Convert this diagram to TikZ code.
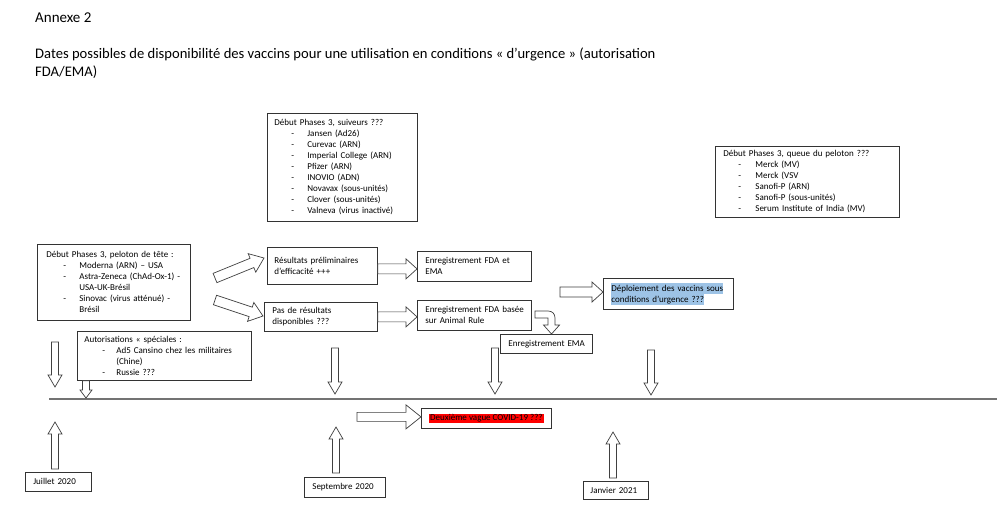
\documentclass[tikz,border=0pt]{standalone}
\usepackage{fontspec}
\setmainfont{Carlito}
\usetikzlibrary{calc}
\definecolor{hlblue}{RGB}{157,195,230}
\newcommand\bul[3]{\mbox{\hspace*{#1pt}\makebox[#2pt][l]{-}#3}}
\newcommand\bla[1]{\bul{17}{16}{#1}}
\newcommand\blq[1]{\bul{15}{17}{#1}}
\newcommand\blb[1]{\bul{18}{14}{#1}}
\newcommand\cont[2]{\mbox{\hspace*{#1pt}#2}}
\newcommand\redhl[1]{{\setlength{\fboxsep}{1pt}\colorbox{red}{#1}}}
\newcommand\bluehl[1]{{\setlength{\fboxsep}{0pt}\colorbox{hlblue}{\rule[-2.5pt]{0pt}{11pt}#1}}}
\begin{document}
\begin{tikzpicture}[x=1pt,y=1pt,
 box/.style={draw=black!80, line width=0.75pt, anchor=north west, inner ysep=0pt, align=left, font=\fontsize{9}{11}\selectfont},
 bsw/.store in=\bsw, bhw/.store in=\bhw, bhl/.store in=\bhl,
 bsw=5pt, bhw=10pt, bhl=11pt,
 barrow/.style={draw=black!75, line width=0.7pt, fill=white, line join=miter,
   to path={($(\tikztostart)!\bsw!90:(\tikztotarget)$)
     -- ($($(\tikztotarget)!\bhl!(\tikztostart)$)!\bsw!90:(\tikztotarget)$)
     -- ($($(\tikztotarget)!\bhl!(\tikztostart)$)!\bhw!90:(\tikztotarget)$)
     -- (\tikztotarget)
     -- ($($(\tikztotarget)!\bhl!(\tikztostart)$)!\bhw!-90:(\tikztotarget)$)
     -- ($($(\tikztotarget)!\bhl!(\tikztostart)$)!\bsw!-90:(\tikztotarget)$)
     -- ($(\tikztostart)!\bsw!-90:(\tikztotarget)$) -- cycle}},
 vsmall/.style={bsw=3.5pt, bhw=7pt, bhl=12pt},
]
\useasboundingbox[fill=white] (0,0) rectangle (1000,-515);

% titles
\node[anchor=base west, inner sep=0pt, font=\fontsize{15}{18}\selectfont] (ann) at (35,-22) {Annexe 2};
\node[anchor=north west, inner sep=0pt, align=left, font=\fontsize{14.6}{18}\selectfont] (sub) at (35,-47.5)
 {Dates possibles de disponibilité des vaccins pour une utilisation en conditions «~d’urgence~» (autorisation\\FDA/EMA)};

% boxes
\node[box, text width=135pt, inner xsep=9pt, minimum height=76pt] (tete) at (37,-244)
 {Début Phases 3, peloton de tête :\\ \bla{Moderna (ARN) – USA}\\ \bla{Astra-Zeneca (ChAd-Ox-1) -}\\ \cont{33}{USA-UK-Brésil}\\ \bla{Sinovac (virus atténué) -}\\ \cont{33}{Brésil}};
\node[box, text width=136pt, inner xsep=7pt, minimum height=108pt] (suiv) at (267,-113)
 {Début Phases 3, suiveurs ???\\ \bla{Jansen (Ad26)}\\ \bla{Curevac (ARN)}\\ \bla{Imperial College (ARN)}\\ \bla{Pfizer (ARN)}\\ \bla{INOVIO (ADN)}\\ \bla{Novavax (sous-unités)}\\ \bla{Clover (sous-unités)}\\ \bla{Valneva (virus inactivé)}};
\node[box, text width=168pt, inner xsep=8pt, minimum height=71pt] (queue) at (715,-146)
 {Début Phases 3, queue du peloton ???\\ \blq{Merck (MV)}\\ \blq{Merck (VSV}\\ \blq{Sanofi-P (ARN)}\\ \blq{Sanofi-P (sous-unités)}\\ \blq{Serum Institute of India (MV)}};
\node[box, text width=96pt, inner xsep=7pt, minimum height=37pt] (res) at (267,-247)
 {Résultats préliminaires\\ d’efficacité +++};
\node[box, text width=98pt, inner xsep=8pt, minimum height=30pt] (enr1) at (417,-251)
 {Enregistrement FDA et\\ EMA};
\node[box, text width=97pt, inner xsep=8pt, minimum height=29pt] (pas) at (264,-302)
 {Pas de résultats\\ disponibles ???};
\node[box, text width=98pt, inner xsep=8pt, minimum height=30pt] (enr2) at (417,-300)
 {\mbox{Enregistrement FDA basée}\\ sur Animal Rule};
\node[box, text width=76pt, inner xsep=8pt, minimum height=19pt] (ema) at (500,-334)
 {\mbox{Enregistrement EMA}};
\node[box, text width=114pt, inner xsep=8pt, minimum height=31pt] (depl) at (603,-278)
 {\bluehl{Déploiement des vaccins sous}\\ \bluehl{conditions d’urgence ???}};
\node[box, text width=160pt, inner xsep=7pt, minimum height=49pt] (auto) at (77,-331)
 {Autorisations «~spéciales :\\ \blb{Ad5 Cansino chez les militaires}\\ \cont{32}{(Chine)}\\ \blb{Russie ???}};
\node[box, minimum width=130pt, minimum height=20pt, inner sep=0pt] (deux) at (421,-408)
 {\redhl{Deuxième vague COVID-19 ???}};
\node[box, text width=50pt, inner xsep=8pt, minimum height=19pt] (juil) at (25,-472) {\mbox{Juillet 2020}};
\node[box, text width=65pt, inner xsep=8pt, minimum height=20pt] (sept) at (304,-477) {\mbox{Septembre 2020}};
\node[box, text width=51pt, inner xsep=7pt, minimum height=18pt] (janv) at (583,-481) {\mbox{Janvier 2021}};

% timeline
\coordinate (tl1) at (49,-399);
\coordinate (tl2) at (997,-399);
\draw[black!55, line width=1.5pt] (tl1) -- (tl2);

% block arrows
\coordinate (a1s) at (215,-278); \coordinate (a1e) at (264,-258);
\coordinate (a2s) at (215,-300); \coordinate (a2e) at (263,-316);
\draw[barrow, bhl=13pt] (a1s) to (a1e);
\draw[barrow, bhl=13pt] (a2s) to (a2e);
\coordinate (a3s) at ($(res.east)+(0,-3)$); \coordinate (a3e) at (a3s -| enr1.west);
\draw[barrow] (a3s) to (a3e);
\coordinate (a4s) at (pas.east); \coordinate (a4e) at (a4s -| enr2.west);
\draw[barrow] (a4s) to (a4e);
\coordinate (a5s) at (560,-292); \coordinate (a5e) at (a5s -| depl.west);
\draw[barrow] (a5s) to (a5e);
\coordinate (a6s) at ($(deux.west)+(-64,1.5)$); \coordinate (a6e) at (a6s -| deux.west);
\draw[barrow, bsw=4.5pt, bhw=12pt, bhl=15pt] (a6s) to (a6e);

% curved arrow from FDA Animal Rule to EMA
\draw[draw=black!75, line width=0.7pt, fill=white, line join=miter]
 (535,-311) -- (548,-311) .. controls (552.5,-311) and (555,-314) .. (555,-318)
 -- (555,-325) -- (559.5,-325) -- (551.5,-334) -- (543.5,-325) -- (548,-325)
 -- (548,-318) -- (535,-318) -- cycle;

% down arrows to timeline
\coordinate (d1s) at (55,-342); \coordinate (d1e) at (55,-387);
\coordinate (d2e) at (86,-398); \coordinate (d2s) at (d2e |- auto.south);
\coordinate (d3s) at (335,-348); \coordinate (d3e) at (335,-394);
\coordinate (d4s) at (495,-348); \coordinate (d4e) at (495,-394);
\coordinate (d5s) at (651,-350); \coordinate (d5e) at (651,-395);
\draw[barrow, vsmall] (d1s) to (d1e);
\draw[barrow, vsmall, bhw=6pt, bhl=8pt] (d2s) to (d2e);
\draw[barrow, vsmall] (d3s) to (d3e);
\draw[barrow, vsmall] (d4s) to (d4e);
\draw[barrow, vsmall] (d5s) to (d5e);

% up arrows from dates
\coordinate (u1e) at (55,-422); \coordinate (u1s) at ($(u1e |- juil.north)+(0,3)$);
\coordinate (u2e) at (336,-427); \coordinate (u2s) at ($(u2e |- sept.north)+(0,4)$);
\coordinate (u3e) at (613,-432); \coordinate (u3s) at ($(u3e |- janv.north)+(0,3)$);
\draw[barrow, vsmall] (u1s) to (u1e);
\draw[barrow, vsmall] (u2s) to (u2e);
\draw[barrow, vsmall] (u3s) to (u3e);
\end{tikzpicture}
\end{document}
